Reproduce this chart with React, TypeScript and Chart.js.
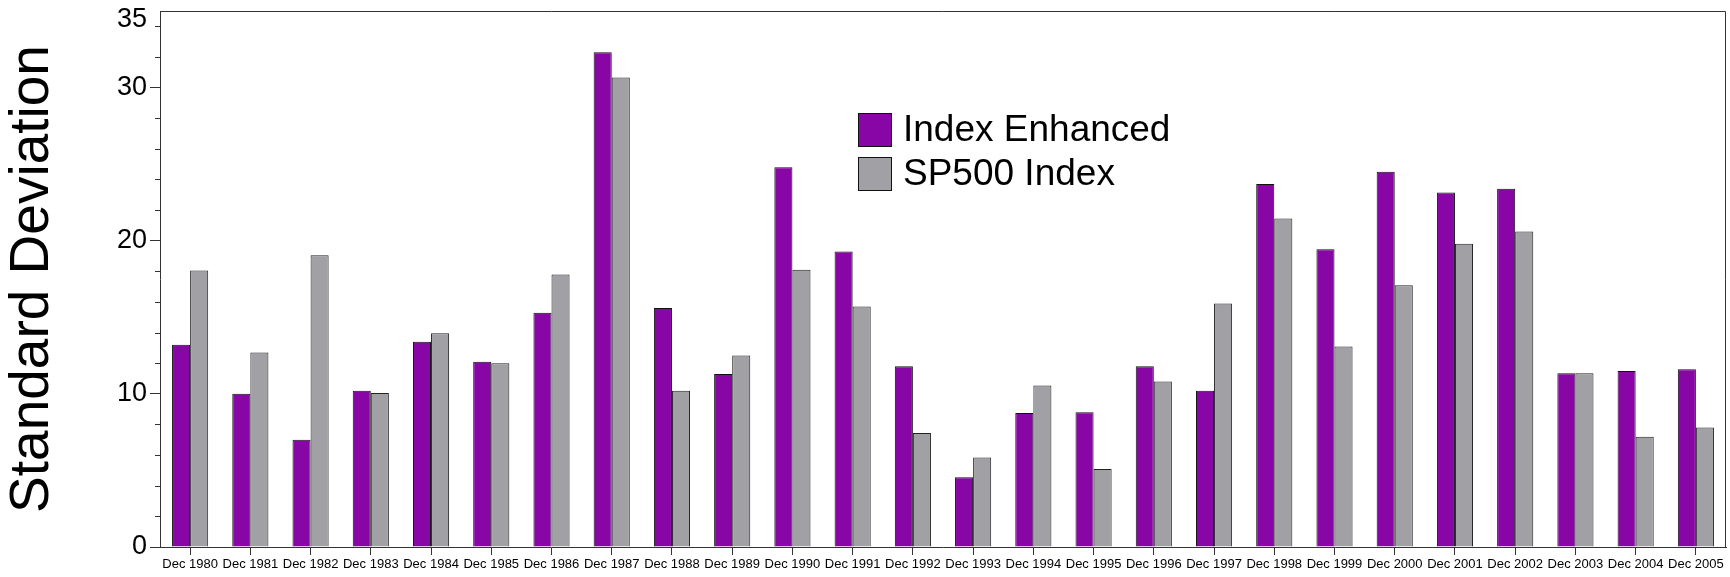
import React, { useEffect, useRef } from "react";
import { Chart, registerables } from "chart.js";

Chart.register(...registerables);

const categories = [
  "Dec 1980", "Dec 1981", "Dec 1982", "Dec 1983", "Dec 1984", "Dec 1985", "Dec 1986",
  "Dec 1987", "Dec 1988", "Dec 1989", "Dec 1990", "Dec 1991", "Dec 1992", "Dec 1993",
  "Dec 1994", "Dec 1995", "Dec 1996", "Dec 1997", "Dec 1998", "Dec 1999", "Dec 2000",
  "Dec 2001", "Dec 2002", "Dec 2003", "Dec 2004", "Dec 2005",
];

const indexEnhanced = [
  13.2, 10.0, 7.0, 10.2, 13.4, 12.1, 15.3, 32.3, 15.6, 11.3, 24.8, 19.3, 11.8, 4.55,
  8.75, 8.8, 11.8, 10.2, 23.7, 19.45, 24.5, 23.15, 23.4, 11.35, 11.5, 11.6,
];

const sp500Index = [
  18.05, 12.7, 19.05, 10.05, 13.95, 12.0, 17.8, 30.65, 10.2, 12.5, 18.1, 15.7, 7.45, 5.85,
  10.55, 5.1, 10.8, 15.9, 21.45, 13.1, 17.1, 19.8, 20.6, 11.35, 7.2, 7.8,
];

const seriesNames = ["Index Enhanced", "SP500 Index"];
const seriesColors = ["#8806a6", "#a0a0a5"];

const yTickValues = [0, 10, 20, 30, 35];
const yTickLabels = ["0", "10", "20", "30", "35"];
const yMinorTicks = [2, 4, 6, 8, 12, 14, 16, 18, 22, 24, 26, 28, 32, 34];

const FONT = "'Liberation Sans', Arial, sans-serif";
const AXIS_COLOR = "#333333";

const framePlugin = {
  id: "frameAndMinorTicks",
  afterDraw(chart: any) {
    const { ctx, chartArea } = chart;
    const y = chart.scales.y;
    ctx.save();
    ctx.strokeStyle = AXIS_COLOR;
    ctx.lineWidth = 1;
    ctx.beginPath();
    ctx.moveTo(chartArea.left, chartArea.top + 0.5);
    ctx.lineTo(chartArea.right - 0.5, chartArea.top + 0.5);
    ctx.lineTo(chartArea.right - 0.5, chartArea.bottom);
    ctx.stroke();
    ctx.beginPath();
    for (const v of yMinorTicks) {
      const py = Math.round(y.getPixelForValue(v)) + 0.5;
      ctx.moveTo(chartArea.left - 5, py);
      ctx.lineTo(chartArea.left, py);
    }
    ctx.stroke();
    // top label of the axis, kept just inside the frame like the original
    ctx.fillStyle = "#000";
    ctx.font = `27px ${FONT}`;
    ctx.textAlign = "right";
    ctx.textBaseline = "middle";
    const topVal = yTickValues[yTickValues.length - 1];
    ctx.fillText(
      yTickLabels[yTickLabels.length - 1],
      chartArea.left - 13,
      y.getPixelForValue(topVal) + 9
    );
    ctx.restore();
  },
};

const legendPlugin = {
  id: "boxLegend",
  afterDraw(chart: any) {
    const { ctx, chartArea } = chart;
    const x0 = chartArea.left + 698;
    const y0 = chartArea.top + 102;
    const box = 34;
    const step = 44;
    ctx.save();
    ctx.font = `37px ${FONT}`;
    ctx.textBaseline = "middle";
    ctx.textAlign = "left";
    chart.data.datasets.forEach((ds: any, i: number) => {
      const by = y0 + i * step;
      ctx.fillStyle = ds.backgroundColor;
      ctx.fillRect(x0, by, box, box);
      ctx.strokeStyle = "#111";
      ctx.lineWidth = 1;
      ctx.strokeRect(x0 + 0.5, by + 0.5, box - 1, box - 1);
      ctx.fillStyle = "#000";
      ctx.fillText(ds.label, x0 + box + 11, by + box / 2 + 1);
    });
    ctx.restore();
  },
};

export default function App() {
  const canvasRef = useRef<HTMLCanvasElement | null>(null);

  useEffect(() => {
    if (!canvasRef.current) return;
    const chart = new Chart(canvasRef.current, {
      type: "bar",
      data: {
        labels: categories,
        datasets: [
          {
            label: seriesNames[0],
            data: indexEnhanced,
            backgroundColor: seriesColors[0],
            borderColor: "#111111",
            borderWidth: 1,
            categoryPercentage: 0.6,
            barPercentage: 1.0,
          },
          {
            label: seriesNames[1],
            data: sp500Index,
            backgroundColor: seriesColors[1],
            borderColor: "#222222",
            borderWidth: 1,
            categoryPercentage: 0.6,
            barPercentage: 1.0,
          },
        ],
      },
      options: {
        responsive: false,
        animation: false,
        devicePixelRatio: 1,
        layout: { padding: { top: 11, right: 4, left: 0, bottom: 0 } },
        plugins: {
          legend: { display: false },
          tooltip: { enabled: false },
          title: { display: false },
        },
        scales: {
          x: {
            type: "category",
            offset: true,
            grid: {
              display: true,
              drawOnChartArea: false,
              offset: false,
              tickLength: 8,
              tickColor: AXIS_COLOR,
            },
            border: { display: true, color: AXIS_COLOR },
            ticks: {
              autoSkip: false,
              maxRotation: 0,
              minRotation: 0,
              padding: 2,
              color: "#000",
              font: { family: FONT, size: 13 },
            },
            afterFit: (scale: any) => {
              scale.height = 30;
              scale.paddingLeft = 0;
              scale.paddingRight = 0;
            },
          },
          y: {
            type: "linear",
            min: 0,
            max: 35,
            afterBuildTicks: (scale: any) => {
              scale.ticks = yTickValues.map((v) => ({ value: v }));
            },
            grid: {
              display: true,
              drawOnChartArea: false,
              tickLength: 10,
              tickColor: (c: any) => (c.tick && c.tick.value === 35 ? "rgba(0,0,0,0)" : AXIS_COLOR),
            },
            border: { display: true, color: AXIS_COLOR },
            ticks: {
              padding: 3,
              color: "#000",
              font: { family: FONT, size: 27 },
              callback: (value: any) => {
                const v = Number(value);
                if (v === yTickValues[yTickValues.length - 1]) return "";
                const idx = yTickValues.indexOf(v);
                return idx >= 0 ? yTickLabels[idx] : "";
              },
            },
            title: {
              display: true,
              text: "Standard Deviation",
              color: "#000",
              font: { family: FONT, size: 55 },
              padding: { top: 0, bottom: 0 },
            },
            afterFit: (scale: any) => {
              scale.width = 160;
              scale.paddingTop = 0;
              scale.paddingBottom = 0;
            },
          },
        },
      },
      plugins: [framePlugin, legendPlugin],
    } as any);
    return () => chart.destroy();
  }, []);

  return (
    <div style={{ position: "absolute", left: 0, top: 0, width: 1730, height: 577, background: "#fff" }}>
      <canvas ref={canvasRef} width={1730} height={577} style={{ display: "block" }} />
    </div>
  );
}
